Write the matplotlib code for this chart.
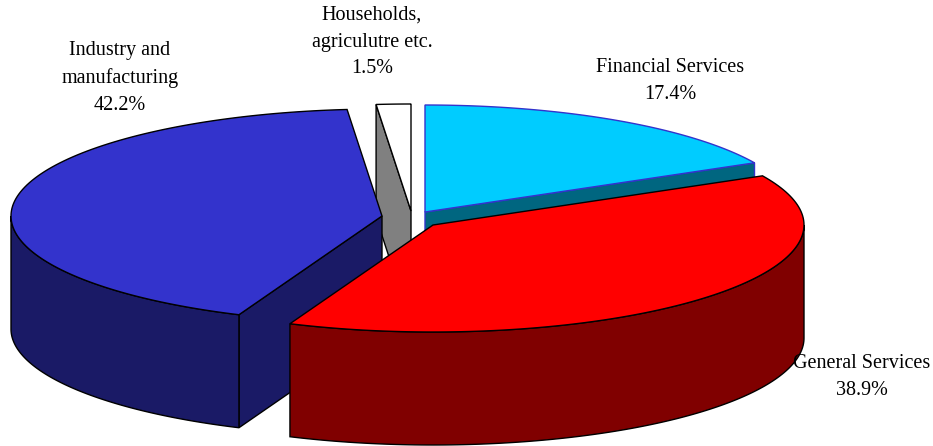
import numpy as np
import matplotlib
matplotlib.use("Agg")
import matplotlib.pyplot as plt
from matplotlib.patches import Polygon

# clockwise from 12 o'clock, same order as the original pie
names = ["Financial Services", "General Services", "Industry and\nmanufacturing", "Households,\nagriculutre etc."]
shares = [17.4, 38.9, 42.2, 1.5]
top_colors = ["#00CCFF", "#FF0000", "#3333CC", "#FFFFFF"]
side_colors = ["#006680", "#800000", "#1A1A66", "#808080"]
edge_colors = ["#3333CC", "#000000", "#000000", "#000000"]

# pie projection, in pixels
RX, RY = 371, 107
DEPTH = 113
apexes = [(425, 212), (433, 225), (382, 216), (411, 211)]
label_pos = [(670, 81), (862, 377), (120, 78), (372, 42)]
draw_order = [3, 0, 2, 1]


def rim(apex, t0, t1, dy=0, n=120):
    t = np.radians(np.linspace(t0, t1, n))
    return np.column_stack([apex[0] + RX * np.sin(t), apex[1] - RY * np.cos(t) + dy])


def add_poly(ax, pts, fc, ec):
    ax.add_patch(Polygon(pts, closed=True, fc=fc, ec=ec, lw=1.0, joinstyle="miter"))


def cut_face(ax, apex, t, fc, ec):
    p = rim(apex, t, t, n=1)[0]
    pts = [apex, p, (p[0], p[1] + DEPTH), (apex[0], apex[1] + DEPTH)]
    add_poly(ax, pts, fc, ec)


def draw_wedge(ax, apex, t0, t1, top, side, ec):
    # flat cut faces only show if their outward normal points at the viewer
    if np.cos(np.radians(t0 - 90)) < -1e-6:
        cut_face(ax, apex, t0, side, ec)
    if np.cos(np.radians(t1 + 90)) < -1e-6:
        cut_face(ax, apex, t1, side, ec)

    # outer wall, front half of the ellipse only
    w0, w1 = max(t0, 90), min(t1, 270)
    if w0 < w1:
        upper = rim(apex, w0, w1)
        lower = rim(apex, w0, w1, dy=DEPTH)
        add_poly(ax, np.vstack([upper, lower[::-1]]), side, ec)

    add_poly(ax, np.vstack([[apex], rim(apex, t0, t1)]), top, ec)


def main():
    fig = plt.figure(figsize=(9.33, 4.46), dpi=100)
    ax = fig.add_axes([0, 0, 1, 1])
    ax.set_xlim(0, 933)
    ax.set_ylim(446, 0)
    ax.axis("off")

    angles = np.concatenate([[0], np.cumsum(shares)]) / sum(shares) * 360

    for i in draw_order:
        draw_wedge(ax, apexes[i], angles[i], angles[i + 1], top_colors[i], side_colors[i], edge_colors[i])

    for name, share, pos in zip(names, shares, label_pos):
        ax.text(pos[0], pos[1], f"{name}\n{share}%", ha="center", va="center",
                family="Liberation Serif", fontsize=14.5, linespacing=1.55, color="black")

    fig.savefig("out.png", dpi=100)


if __name__ == "__main__":
    main()
